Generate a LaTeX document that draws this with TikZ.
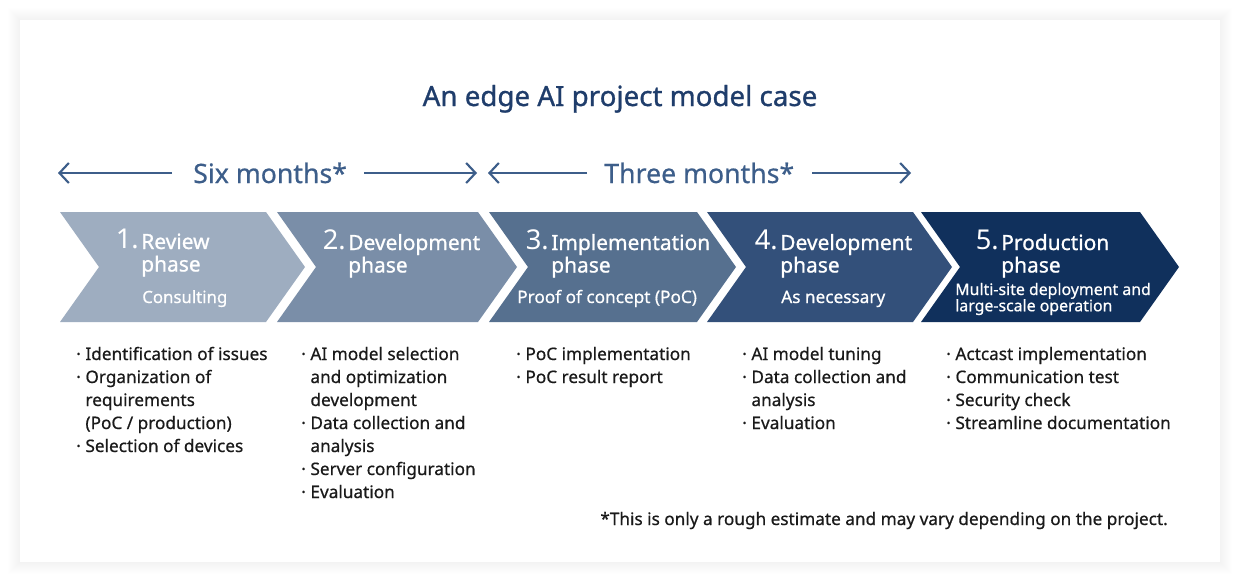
\documentclass[tikz,border=0pt]{standalone}
\usepackage{fontspec}
\setmainfont{Noto Sans}
\newfontfamily\medfont{Noto Sans}[RawFeature={embolden=1.0}]
\newfontfamily\semifont{Noto Sans}[RawFeature={embolden=0.6}]
\usetikzlibrary{arrows.meta}
\definecolor{cA}{HTML}{9EADC0}
\definecolor{cB}{HTML}{7A8EA8}
\definecolor{cC}{HTML}{56708F}
\definecolor{cD}{HTML}{33507A}
\definecolor{cE}{HTML}{10305C}
\definecolor{titlec}{HTML}{1F3D6B}
\definecolor{arrc}{HTML}{3D5E8A}
\definecolor{txt}{HTML}{1A1A1A}
\newcommand\chevshape[3]{%
  \fill[#3] (#1,212) -- (#2,212) -- (#2+39,267) -- (#2,322) -- (#1,322) -- (#1+39,267) -- cycle;}
\newcommand\bul{\makebox[6.9pt][l]{·}}
\begin{document}
\begin{tikzpicture}[x=0.75pt,y=-0.75pt,
  titletext/.style={font=\medfont\fontsize{20.8}{22}\selectfont, text=titlec, inner sep=0pt},
  spantext/.style={font=\semifont\fontsize{20}{22}\selectfont, text=arrc, inner sep=0pt},
  spanarrow/.style={draw=arrc, line width=1.6pt, -{Straight Barb[length=7pt,width=15pt,line width=1.6pt]}},
  numtext/.style={font=\fontsize{20.5}{22}\selectfont, text=white, inner sep=0pt, anchor=base east},
  headtext/.style={font=\medfont\fontsize{15.7}{16.5}\selectfont, text=white, inner sep=0pt, anchor=base west, align=left},
  subtext/.style={font=\semifont\fontsize{12.6}{13}\selectfont, text=white, inner sep=0pt, anchor=base west, align=left},
  listtext/.style={font=\semifont\fontsize{12.9}{17.25}\selectfont, text=txt, inner sep=0pt, anchor=base west},
  notetext/.style={font=\semifont\fontsize{12.9}{13}\selectfont, text=txt, inner sep=0pt, anchor=base east}]
\useasboundingbox (0,0) rectangle (1240,582);
\fill[white] (0,0) rectangle (1240,582);
\foreach \i in {1,...,12}{\fill[black,opacity=0.0045] (20-\i,20-\i) rectangle (1220+\i,562+\i);}
\fill[white] (20,20) rectangle (1220,562);

\node[titletext, anchor=base] (title) at (620,106) {An edge AI project model case};

% span labels
\node[spantext, anchor=base west] (six) at (193,183) {Six months*};
\node[spantext, anchor=base west] (three) at (604,183) {Three months*};
\coordinate (s1l) at (58,173); \coordinate (s1a) at (172,173);
\coordinate (s1b) at (364,173); \coordinate (s1r) at (477,173);
\coordinate (s2l) at (488,173); \coordinate (s2a) at (587,173);
\coordinate (s2b) at (812,173); \coordinate (s2r) at (911,173);
\draw[spanarrow] (s1a) -- (s1l);
\draw[spanarrow] (s1b) -- (s1r);
\draw[spanarrow] (s2a) -- (s2l);
\draw[spanarrow] (s2b) -- (s2r);

% chevrons
\chevshape{60}{266}{cA}
\chevshape{277}{478}{cB}
\chevshape{489}{697}{cC}
\chevshape{707}{913}{cD}
\chevshape{921}{1140}{cE}

\node[numtext] (n1) at (139,248) {1.};
\node[headtext] (h1) at (141,249) {\begin{tabular}[t]{@{}l@{}}Review\\phase\end{tabular}};
\node[subtext] (s1) at (142,303) {Consulting};

\node[numtext] (n2) at (346,249) {2.};
\node[headtext] (h2) at (348,250) {\begin{tabular}[t]{@{}l@{}}Development\\phase\end{tabular}};

\node[numtext] (n3) at (549,249) {3.};
\node[headtext] (h3) at (551,250) {\begin{tabular}[t]{@{}l@{}}Implementation\\phase\end{tabular}};
\node[subtext, font=\semifont\fontsize{12.9}{13}\selectfont] (s3) at (517,303) {Proof of concept (PoC)};

\node[numtext] (n4) at (778,249) {4.};
\node[headtext] (h4) at (780,250) {\begin{tabular}[t]{@{}l@{}}Development\\phase\end{tabular}};
\node[subtext, font=\semifont\fontsize{12.9}{13}\selectfont] (s4) at (781,303) {As necessary};

\node[numtext] (n5) at (999,249) {5.};
\node[headtext] (h5) at (1001,250) {\begin{tabular}[t]{@{}l@{}}Production\\phase\end{tabular}};
\node[subtext, font=\semifont\fontsize{11.9}{13}\selectfont] (s5) at (955,295) {\begin{tabular}[t]{@{}l@{}}Multi-site deployment and\\[-0.8pt]large-scale operation\end{tabular}};

% lists
\node[listtext] (l1) at (76,360) {\begin{tabular}[t]{@{}l@{}l@{}}
\bul&Identification of issues\\
\bul&Organization of\\
&requirements\\
&(PoC / production)\\
\bul&Selection of devices\end{tabular}};
\node[listtext] (l2) at (301,360) {\begin{tabular}[t]{@{}l@{}l@{}}
\bul&AI model selection\\
&and optimization\\
&development\\
\bul&Data collection and\\
&analysis\\
\bul&Server configuration\\
\bul&Evaluation\end{tabular}};
\node[listtext] (l3) at (516,360) {\begin{tabular}[t]{@{}l@{}l@{}}
\bul&PoC implementation\\
\bul&PoC result report\end{tabular}};
\node[listtext] (l4) at (742,360) {\begin{tabular}[t]{@{}l@{}l@{}}
\bul&AI model tuning\\
\bul&Data collection and\\
&analysis\\
\bul&Evaluation\end{tabular}};
\node[listtext] (l5) at (946,360) {\begin{tabular}[t]{@{}l@{}l@{}}
\bul&Actcast implementation\\
\bul&Communication test\\
\bul&Security check\\
\bul&Streamline documentation\end{tabular}};

\node[notetext] (note) at (1168,525) {*This is only a rough estimate and may vary depending on the project.};
\end{tikzpicture}
\end{document}
